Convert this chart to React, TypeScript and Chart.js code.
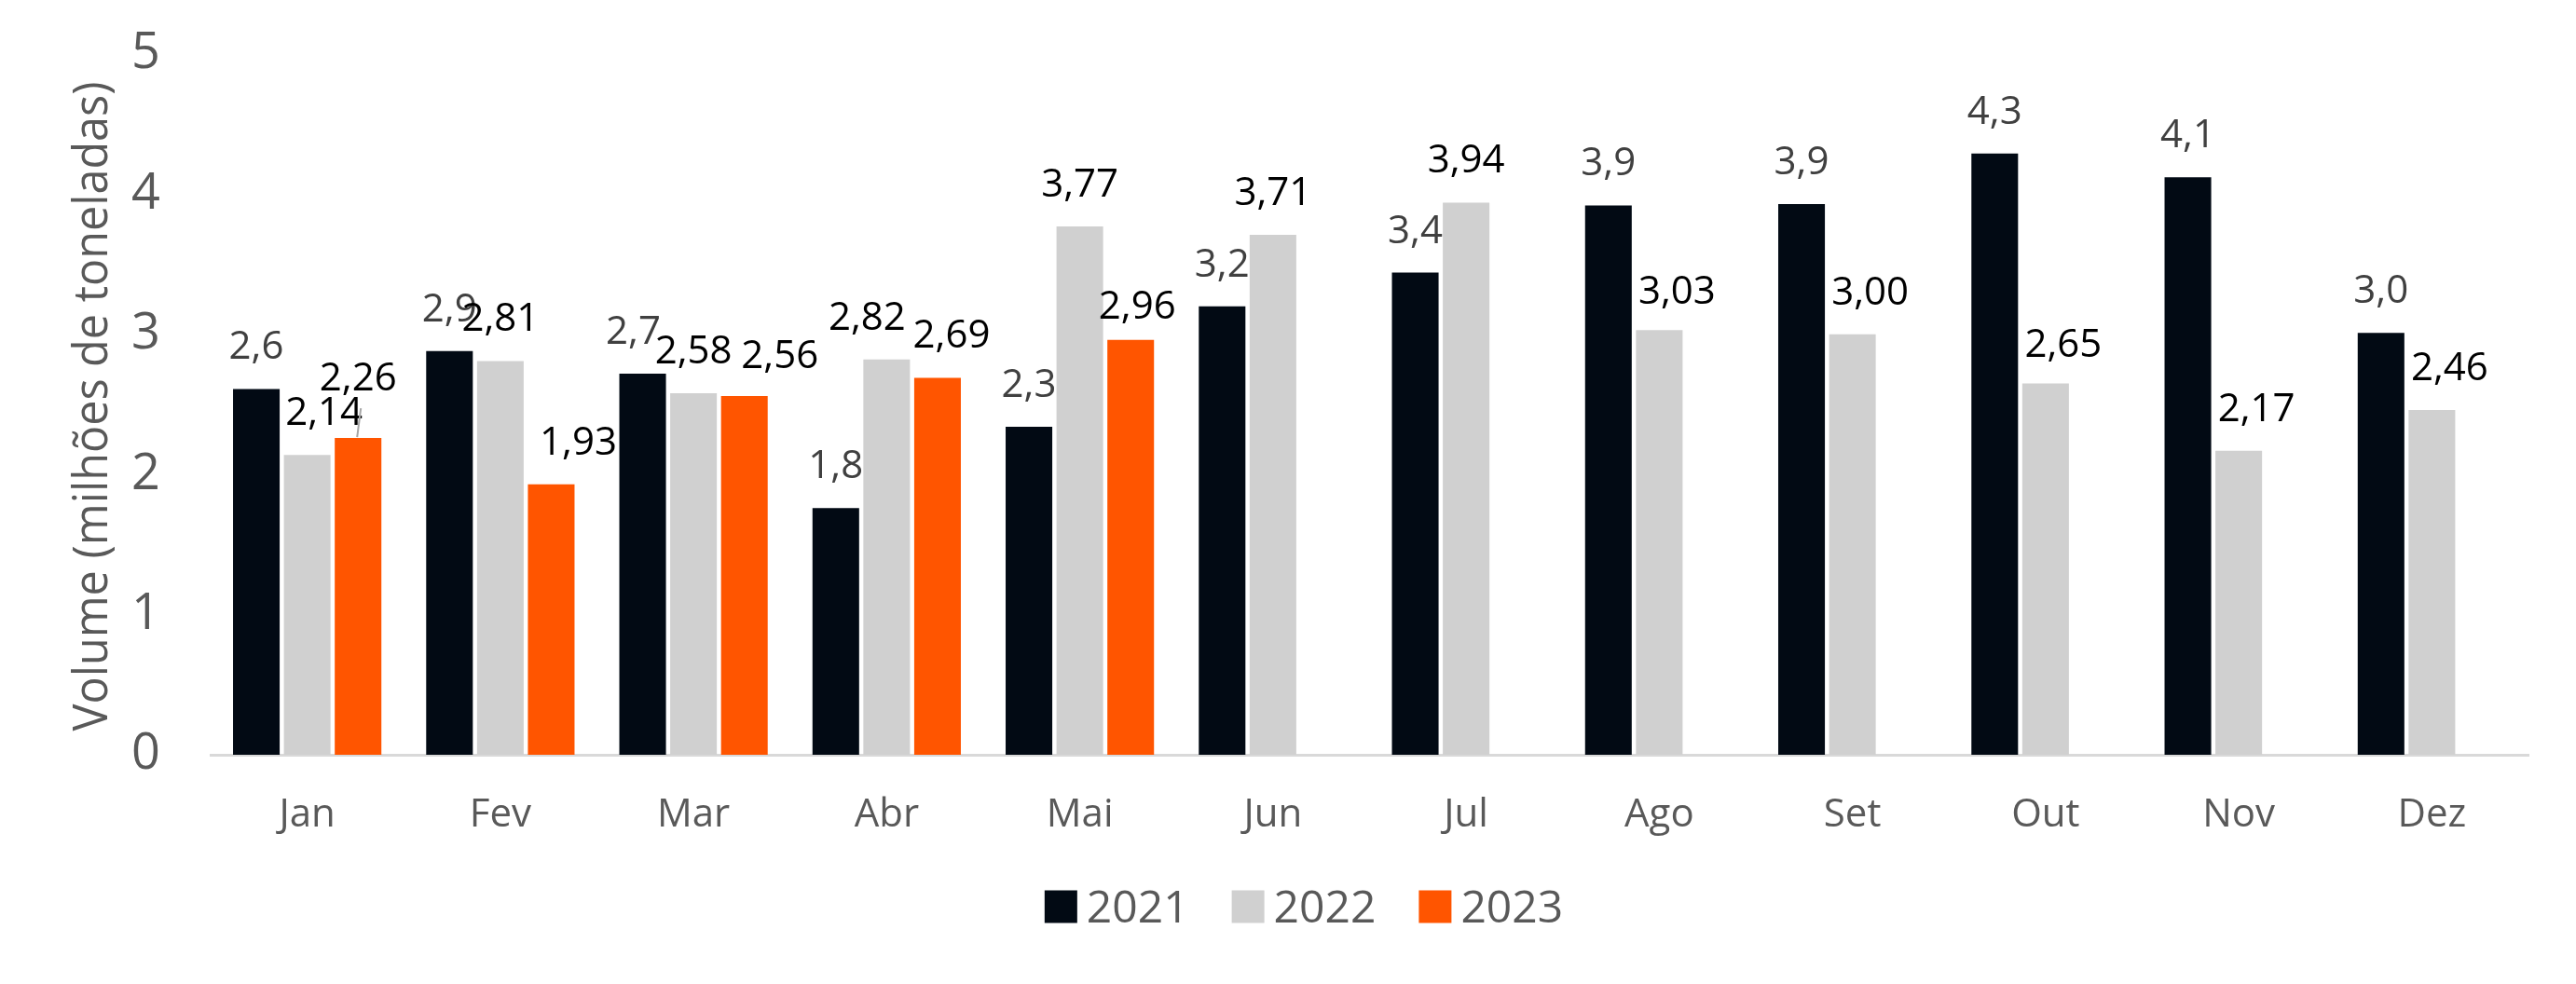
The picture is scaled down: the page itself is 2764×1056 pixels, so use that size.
import React, { useEffect, useRef } from 'react';
import { Chart, registerables } from 'chart.js';

Chart.register(...registerables);

// ---------- data ----------
const months = ['Jan', 'Fev', 'Mar', 'Abr', 'Mai', 'Jun', 'Jul', 'Ago', 'Set', 'Out', 'Nov', 'Dez'];
const seriesNames = ['2021', '2022', '2023'];
const values2021 = [2.61, 2.88, 2.72, 1.76, 2.34, 3.2, 3.44, 3.92, 3.93, 4.29, 4.12, 3.01];
const values2022 = [2.14, 2.81, 2.58, 2.82, 3.77, 3.71, 3.94, 3.03, 3.0, 2.65, 2.17, 2.46];
const values2023 = [2.26, 1.93, 2.56, 2.69, 2.96, null, null, null, null, null, null, null];
const labelDecimals = [1, 2, 2];
const yTicks = [0, 1, 2, 3, 4, 5];
const yTitle = 'Volume (milhões de toneladas)';

// ---------- style ----------
const COLORS = ['#020A14', '#D0D0D0', '#FF5500'];
const LABEL_COLORS = ['#404040', '#000000', '#000000'];
const AXIS_TEXT = '#595959';
const FONT = "'Open Sans', 'Noto Sans', sans-serif";

// manual label nudges (dataset-month -> [dx, dy] in px), as placed in the original
const labelNudges: Record<string, [number, number]> = {
  '0-2': [-10, 0],
  '1-0': [18, 0],
  '1-3': [-21, 0],
  '1-7': [19, 4],
  '1-8': [19, 0],
  '1-9': [19, 4],
  '1-10': [19, 0],
  '1-11': [19, 0],
  '2-0': [0, -19],
  '2-1': [29, 0],
  '2-2': [38, 2],
  '2-3': [15, 0],
  '2-4': [7, 9],
};
const leaderLines = ['2-0'];

const fmt = (v: number, d: number) => v.toFixed(d).replace('.', ',');

const labelPlugin = {
  id: 'valueLabels',
  afterDatasetsDraw(chart: any) {
    const ctx = chart.ctx as CanvasRenderingContext2D;
    ctx.save();
    ctx.font = `42px ${FONT}`;
    ctx.textAlign = 'center';
    ctx.textBaseline = 'alphabetic';
    chart.data.datasets.forEach((ds: any, di: number) => {
      const meta = chart.getDatasetMeta(di);
      meta.data.forEach((el: any, i: number) => {
        const v = ds.data[i];
        if (v == null) return;
        const key = `${di}-${i}`;
        const [dx, dy] = labelNudges[key] || [0, 0];
        const cx = el.x + dx;
        const cy = el.y - 47 + dy;
        if (leaderLines.includes(key)) {
          ctx.strokeStyle = '#A6A6A6';
          ctx.lineWidth = 2;
          ctx.beginPath();
          ctx.moveTo(cx + 3, cy + 34);
          ctx.lineTo(el.x - 1, el.y - 1);
          ctx.stroke();
        }
        ctx.fillStyle = LABEL_COLORS[di];
        ctx.fillText(fmt(v, labelDecimals[di]), cx, cy + 15);
      });
    });
    ctx.restore();
  },
};

const textPlugin = {
  id: 'titleLegend',
  afterDraw(chart: any) {
    const ctx = chart.ctx as CanvasRenderingContext2D;
    const area = chart.chartArea;
    // y-axis title
    ctx.save();
    ctx.font = `52px ${FONT}`;
    ctx.fillStyle = AXIS_TEXT;
    ctx.textAlign = 'center';
    ctx.textBaseline = 'alphabetic';
    const w = ctx.measureText(yTitle).width;
    ctx.translate(115, (area.top + area.bottom) / 2 + 2);
    ctx.rotate(-Math.PI / 2);
    if (w > 697) ctx.scale(697 / w, 1);
    ctx.fillText(yTitle, 0, 0);
    ctx.restore();

    // legend
    ctx.save();
    ctx.font = `48px ${FONT}`;
    ctx.textBaseline = 'alphabetic';
    ctx.textAlign = 'left';
    const box = 35;
    const gapBoxText = 10;
    const gapItems = 46;
    const widths = chart.data.datasets.map((d: any) => ctx.measureText(d.label).width);
    const total = widths.reduce((a: number, b: number) => a + b, 0) + chart.data.datasets.length * (box + gapBoxText) + gapItems * (chart.data.datasets.length - 1);
    let x = chart.width / 2 + 17 - total / 2;
    const cy = 973;
    chart.data.datasets.forEach((d: any, i: number) => {
      ctx.fillStyle = d.backgroundColor;
      ctx.fillRect(x, cy - box / 2, box, box);
      x += box + gapBoxText;
      ctx.fillStyle = AXIS_TEXT;
      ctx.fillText(d.label, x, cy + 17);
      x += widths[i] + gapItems;
    });
    ctx.restore();
  },
};

export default function App() {
  const ref = useRef<HTMLCanvasElement>(null);
  useEffect(() => {
    const canvas = ref.current!;
    const chart = new Chart(canvas, {
      type: 'bar',
      data: {
        labels: months,
        datasets: [
          { label: seriesNames[0], data: values2021, backgroundColor: COLORS[0] },
          { label: seriesNames[1], data: values2022, backgroundColor: COLORS[1] },
          { label: seriesNames[2], data: values2023 as any, backgroundColor: COLORS[2] },
        ],
      },
      options: {
        responsive: false,
        animation: false,
        devicePixelRatio: 1,
        layout: { autoPadding: false, padding: { top: 58, right: 51, bottom: 0, left: 0 } },
        datasets: { bar: { categoryPercentage: 0.79, barPercentage: 0.917 } },
        plugins: {
          legend: { display: false },
          tooltip: { enabled: false },
          title: { display: false },
        },
        scales: {
          x: {
            grid: { display: false, drawTicks: false },
            border: { display: true, color: '#D9D9D9', width: 3 },
            ticks: {
              color: AXIS_TEXT,
              font: { family: FONT, size: 42, lineHeight: 1 },
              padding: 44,
              maxRotation: 0,
              autoSkip: false,
            },
            afterFit: (s: any) => {
              s.height = 246;
              s.paddingLeft = 0;
              s.paddingRight = 0;
            },
          },
          y: {
            min: 0,
            max: 5,
            grid: { display: false, drawTicks: false },
            border: { display: false },
            ticks: {
              color: AXIS_TEXT,
              font: { family: FONT, size: 54, lineHeight: 1 },
              padding: 54,
            },
            afterBuildTicks: (s: any) => {
              s.ticks = yTicks.map((v) => ({ value: v }));
            },
            afterFit: (s: any) => {
              s.width = 226;
              s.paddingTop = 0;
              s.paddingBottom = 0;
            },
          },
        },
      } as any,
      plugins: [labelPlugin, textPlugin],
    });
    return () => chart.destroy();
  }, []);
  return (
    <div style={{ position: 'fixed', left: 0, top: 0, width: 2764, height: 1056, background: '#ffffff' }}>
      <canvas ref={ref} width={2764} height={1056} style={{ display: 'block', width: 2764, height: 1056 }} />
    </div>
  );
}
